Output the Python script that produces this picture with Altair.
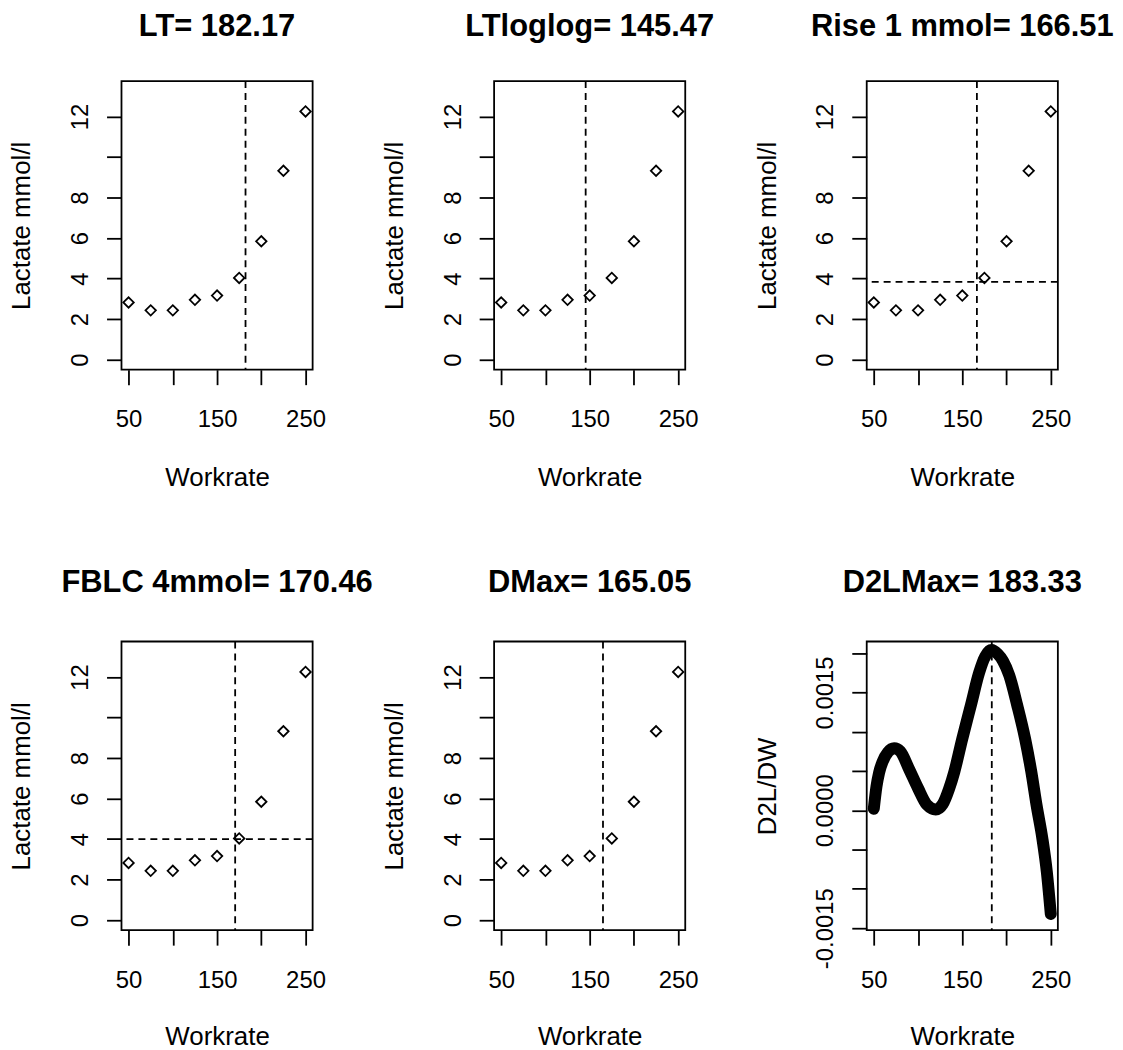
import json
import altair as alt
import pandas as pd

# ---------------- data ----------------
workrate = [50, 75, 100, 125, 150, 175, 200, 225, 250]
lactate = [2.82, 2.43, 2.43, 2.95, 3.16, 4.03, 5.84, 9.32, 12.25]

panel_titles = ["LT= 182.17", "LTloglog= 145.47", "Rise 1 mmol= 166.51",
                "FBLC 4mmol= 170.46", "DMax= 165.05", "D2LMax= 183.33"]
threshold_workrate = [182.17, 145.47, 166.51, 170.46, 165.05, 183.33]
threshold_lactate = [None, None, 3.84, 4.0, None, None]

curve_workrate = [50, 53, 56, 60, 66, 73, 80, 90, 100, 110, 120, 128, 135, 141,
                  150, 160, 169, 176, 183, 190, 196, 203, 212, 221, 228, 234,
                  240.5, 245.5, 250]
curve_d2l = [0.00002, 0.00030, 0.00048, 0.00062, 0.00074, 0.00079, 0.00075,
             0.00052, 0.00028, 0.00007, 0.00001, 0.00008, 0.00027, 0.00049,
             0.00091, 0.00135, 0.00175, 0.00196, 0.00204, 0.00199, 0.00190,
             0.00172, 0.00134, 0.00091, 0.00049, 0.00006, -0.00036, -0.00078,
             -0.00132]

x_ticks = [50, 100, 150, 200, 250]
x_tick_labels = ["50", "", "150", "", "250"]
lac_ticks = [0, 2, 4, 6, 8, 10, 12]
lac_tick_labels = ["0", "2", "4", "6", "8", "", "12"]
d2l_ticks = [-0.0015, -0.001, -0.0005, 0.0, 0.0005, 0.001, 0.0015, 0.002]
d2l_tick_labels = ["-0.0015", "", "", "0.0000", "", "", "0.0015", ""]

# ---------------- style ----------------
FONT = "Liberation Sans"
W, H = 192, 290
X_DOMAIN = [42, 258]
LAC_DOMAIN = [-0.5, 13.75]
D2L_DOMAIN = [-0.001526, 0.002148]
TICK = 15
LINE_W = 1.8
DASH = [7, 5]


def label_expr(ticks, labels):
    return f"{json.dumps(labels)}[indexof({json.dumps(ticks)}, datum.value)]"


def x_axis(row):
    return alt.Axis(
        values=x_ticks, labelExpr=label_expr(x_ticks, x_tick_labels),
        title="Workrate", domain=False, grid=False,
        tickSize=TICK, tickWidth=LINE_W, tickColor="black",
        labelFont=FONT, labelFontSize=24, labelColor="black",
        labelBaseline="alphabetic", labelAlign="center",
        labelPadding=42 if row == 0 else 43,
        labelOverlap=False, labelFlush=False,
        titleFont=FONT, titleFontSize=26, titleFontWeight="normal",
        titleColor="black", titleX=W / 2, titleY=116 if row == 0 else 115,
        titleAlign="center", titleBaseline="alphabetic",
    )


def y_axis(title, ticks, labels):
    return alt.Axis(
        values=ticks, labelExpr=label_expr(ticks, labels),
        title=title, domain=False, grid=False,
        tickSize=TICK, tickWidth=LINE_W, tickColor="black",
        labelFont=FONT, labelFontSize=24, labelColor="black",
        labelAngle=270, labelAlign="center", labelBaseline="alphabetic",
        labelPadding=19, labelOverlap=False, labelFlush=False,
        titleFont=FONT, titleFontSize=26, titleFontWeight="normal",
        titleColor="black", titleAngle=270, titleX=-92, titleY=H / 2,
        titleAlign="center", titleBaseline="alphabetic",
    )


def title_params(text, row):
    return alt.TitleParams(
        text=text, font=FONT, fontSize=31, fontWeight="bold", color="black",
        anchor="middle", frame="group", baseline="alphabetic",
        offset=13 if row == 0 else 17.5,
    )


points_df = pd.DataFrame({"workrate": workrate, "lactate": lactate})
curve_df = pd.DataFrame({"workrate": curve_workrate, "d2l": curve_d2l})


def lactate_panel(i, row):
    xs = alt.Scale(domain=X_DOMAIN, nice=False, zero=False)
    ys = alt.Scale(domain=LAC_DOMAIN, nice=False, zero=False)
    xa = x_axis(row)
    ya = y_axis("Lactate mmol/l", lac_ticks, lac_tick_labels)
    pts = alt.Chart(points_df).mark_point(
        shape="diamond", size=110, filled=False, color="black", strokeWidth=1.8,
        opacity=1
    ).encode(
        x=alt.X("workrate:Q", scale=xs, axis=xa),
        y=alt.Y("lactate:Q", scale=ys, axis=ya),
    )
    layers = [pts]
    vdf = pd.DataFrame({"workrate": [threshold_workrate[i]]})
    layers.append(alt.Chart(vdf).mark_rule(
        color="black", strokeWidth=LINE_W, strokeDash=DASH
    ).encode(x=alt.X("workrate:Q", scale=xs, axis=xa)))
    if threshold_lactate[i] is not None:
        hdf = pd.DataFrame({"lactate": [threshold_lactate[i]]})
        layers.append(alt.Chart(hdf).mark_rule(
            color="black", strokeWidth=LINE_W, strokeDash=DASH
        ).encode(y=alt.Y("lactate:Q", scale=ys, axis=ya)))
    return alt.layer(*layers).properties(
        width=W, height=H, title=title_params(panel_titles[i], row))


def d2l_panel(i, row):
    xs = alt.Scale(domain=X_DOMAIN, nice=False, zero=False)
    ys = alt.Scale(domain=D2L_DOMAIN, nice=False, zero=False)
    xa = x_axis(row)
    ya = y_axis("D2L/DW", d2l_ticks, d2l_tick_labels)
    line = alt.Chart(curve_df).mark_line(
        color="black", strokeWidth=12, strokeCap="round", strokeJoin="round",
        interpolate="monotone", clip=True
    ).encode(
        x=alt.X("workrate:Q", scale=xs, axis=xa),
        y=alt.Y("d2l:Q", scale=ys, axis=ya),
    )
    vdf = pd.DataFrame({"workrate": [threshold_workrate[i]]})
    rule = alt.Chart(vdf).mark_rule(
        color="black", strokeWidth=LINE_W, strokeDash=DASH
    ).encode(x=alt.X("workrate:Q", scale=xs, axis=xa))
    return alt.layer(line, rule).properties(
        width=W, height=H, title=title_params(panel_titles[i], row))


panels = [lactate_panel(0, 0), lactate_panel(1, 0), lactate_panel(2, 0),
          lactate_panel(3, 1), lactate_panel(4, 1), d2l_panel(5, 1)]

chart = alt.concat(
    *panels, columns=3, bounds="flush",
    spacing={"row": 273, "column": 182.3},
).properties(
    padding={"top": 0, "left": 0, "right": 0, "bottom": 0},
    background="white",
).configure_view(stroke="black", strokeWidth=LINE_W)

chart.save("out.html", embed_options={"renderer": "svg", "actions": False})
